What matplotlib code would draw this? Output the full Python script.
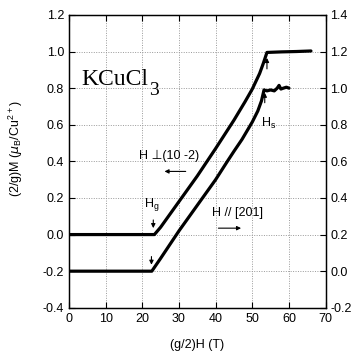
import matplotlib
matplotlib.use("Agg")
import matplotlib.pyplot as plt

# H perpendicular (10 -2): left axis
H_perp = [0, 10, 20, 23.3, 25, 30, 35, 40, 45, 48, 50, 52, 53, 54, 58, 62, 66]
M_perp = [0, 0, 0, 0, 0.04, 0.18, 0.32, 0.47, 0.625, 0.725, 0.795, 0.88, 0.935, 0.995, 0.998, 1.0, 1.003]

# H // [201]: right axis
H_par = [0, 10, 20, 22.6, 25, 30, 35, 40, 43.2, 45, 47.2, 50, 51.5, 52.5, 53.2, 54, 55, 56, 56.8, 57.3, 57.8, 58.5, 59.3, 60]
M_par = [0, 0, 0, 0, 0.07, 0.22, 0.36, 0.50, 0.60, 0.655, 0.72, 0.815, 0.875, 0.93, 0.99, 0.985, 0.99, 0.985, 1.0, 1.015, 0.995, 1.0, 1.005, 1.0]

xticks = [0, 10, 20, 30, 40, 50, 60, 70]
yticks_left = [-0.4, -0.2, 0.0, 0.2, 0.4, 0.6, 0.8, 1.0, 1.2]
yticks_right = [-0.2, 0.0, 0.2, 0.4, 0.6, 0.8, 1.0, 1.2, 1.4]

plt.rcParams['font.family'] = ['Liberation Sans', 'DejaVu Sans']
fig = plt.figure(figsize=(3.61, 3.55), dpi=100)
ax = fig.add_axes([0.191, 0.133, 0.711, 0.825])
ax2 = ax.twinx()

ax.set_xlim(0, 70)
ax.set_ylim(-0.4, 1.2)
ax2.set_ylim(-0.2, 1.4)

ax.set_xticks(xticks)
ax.set_yticks(yticks_left)
ax.set_yticklabels([f"{v:.1f}" for v in yticks_left])
ax2.set_yticks(yticks_right)
ax2.set_yticklabels([f"{v:.1f}" for v in yticks_right])

ax.grid(True, color='#999999', linestyle=(0, (1, 1.5)), linewidth=0.7)
for a in (ax, ax2):
    a.tick_params(direction='in', labelsize=9, length=4, width=0.8)
    for s in a.spines.values():
        s.set_linewidth(0.9)
ax.tick_params(top=True)

ax.plot(H_perp, M_perp, color='black', lw=2.3, solid_joinstyle='round', solid_capstyle='round')
ax2.plot(H_par, M_par, color='black', lw=2.3, solid_joinstyle='round', solid_capstyle='round')

ap = dict(arrowstyle='-|>', color='black', lw=0.8, mutation_scale=6)
# Hg arrows
ax.annotate('', xy=(23.0, 0.02), xytext=(23.0, 0.095), arrowprops=ap)
ax.annotate('', xy=(22.5, -0.18), xytext=(22.5, -0.105), arrowprops=ap)
ax.text(22.6, 0.165, r'H$_\mathregular{g}$', fontsize=9, ha='center', va='center')
# Hs arrows
ax.annotate('', xy=(54.0, 0.98), xytext=(54.0, 0.89), arrowprops=ap)
ax.annotate('', xy=(53.4, 0.79), xytext=(53.4, 0.705), arrowprops=ap)
ax.text(54.5, 0.607, r'H$_\mathregular{s}$', fontsize=9, ha='center', va='center')

# direction labels
ax.text(19, 0.43, 'H \u22a5(10 -2)', fontsize=9, ha='left', va='center')
ax.annotate('', xy=(25.3, 0.345), xytext=(32.6, 0.345), arrowprops=ap)
ax.text(39, 0.12, 'H // [201]', fontsize=9, ha='left', va='center')
ax.annotate('', xy=(47.7, 0.035), xytext=(40.0, 0.035), arrowprops=ap)

t = ax.text(3.5, 0.845, 'KCuCl', fontsize=17, ha='left', va='center', family='Liberation Serif')
ax.annotate('3', xy=(1, 0), xycoords=t, xytext=(0.5, -3.0), textcoords='offset points',
            fontsize=14, ha='left', va='baseline', family='Liberation Serif')

ax.set_xlabel('(g/2)H (T)', fontsize=9, labelpad=10)
ax.set_ylabel(r'(2/g)M ($\mu_\mathregular{B}$/Cu$^\mathregular{2+}$)', fontsize=9)
ax.yaxis.set_label_coords(-0.171, 0.543)

fig.savefig('out.png', dpi=100)
